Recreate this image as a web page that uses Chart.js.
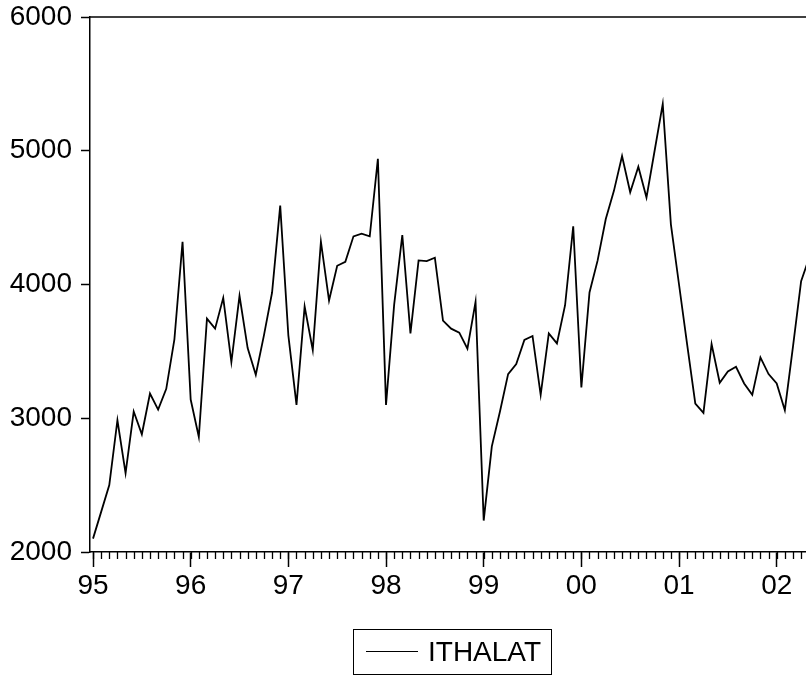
<!DOCTYPE html>
<html>
<head>
<meta charset="utf-8">
<title>ITHALAT</title>
<script src="https://cdn.jsdelivr.net/npm/chart.js@4.4.1/dist/chart.umd.min.js"></script>
<style>
    html, body { margin: 0; padding: 0; background: #fff; }
    #wrap { position: relative; width: 806px; height: 678px; overflow: hidden; }
    #chart { display: block; }
    #legend {
        position: absolute; left: 353px; top: 629px;
        width: 199px; height: 46px; box-sizing: border-box;
        border: 1.5px solid #000;
        font-family: "Liberation Sans", Arial, sans-serif; font-size: 28px; color: #000;
    }
    #legend .swatch { position: absolute; left: 12px; top: 21px; width: 52px; height: 0; border-top: 1.5px solid #000; }
    #legend .label { position: absolute; left: 74px; top: 8px; line-height: 28px; white-space: nowrap; }
</style>
</head>
<body>
<div id="wrap">
    <canvas id="chart" width="806" height="678"></canvas>
    <div id="legend"><span class="swatch"></span><span class="label">ITHALAT</span></div>
</div>
<script>
// Monthly values, Jan 1995 .. May 2002
const ithalat95 = [2100, 2300, 2500, 2985, 2590, 3050, 2880, 3185, 3065, 3220, 3590, 4320];
const ithalat96 = [3140, 2860, 3745, 3670, 3900, 3420, 3915, 3525, 3325, 3620, 3940, 4590];
const ithalat97 = [3620, 3100, 3835, 3510, 4320, 3880, 4140, 4170, 4360, 4380, 4360, 4940];
const ithalat98 = [3100, 3850, 4370, 3635, 4180, 4175, 4200, 3730, 3670, 3640, 3520, 3870];
const ithalat99 = [2235, 2790, 3050, 3330, 3405, 3585, 3615, 3175, 3635, 3560, 3845, 4435];
const ithalat00 = [3230, 3940, 4180, 4490, 4700, 4960, 4690, 4880, 4650, 5000, 5350, 4450];
const ithalat01 = [4000, 3550, 3110, 3040, 3555, 3265, 3350, 3385, 3260, 3175, 3455, 3330];
const ithalat02 = [3260, 3060, 3535, 4025, 4200];

const yearLabels = ['95', '96', '97', '98', '99', '00', '01', '02'];
const yTicks = [2000, 3000, 4000, 5000, 6000];

const ithalat = [].concat(ithalat95, ithalat96, ithalat97, ithalat98,
                          ithalat99, ithalat00, ithalat01, ithalat02);

const FONT = { family: '"Liberation Sans", Arial, sans-serif', size: 28 };

// Small monthly ticks under the x axis
const minorTicks = {
    id: 'minorTicks',
    afterDraw(chart) {
        const ctx = chart.ctx;
        const xs = chart.scales.x;
        const y0 = chart.chartArea.bottom;
        ctx.save();
        ctx.strokeStyle = '#000';
        ctx.lineWidth = 1.3;
        ctx.beginPath();
        for (let i = 0; i <= ithalat.length; i++) {
            if (i > xs.max) break;
            const px = Math.round(xs.getPixelForValue(i)) + 0.5;
            ctx.moveTo(px, y0);
            ctx.lineTo(px, y0 + 7);
        }
        ctx.stroke();
        ctx.restore();
    }
};

// Top frame line
const frame = {
    id: 'frame',
    afterDraw(chart) {
        const a = chart.chartArea;
        const ctx = chart.ctx;
        ctx.save();
        ctx.strokeStyle = '#000';
        ctx.lineWidth = 1.5;
        ctx.beginPath();
        ctx.moveTo(a.left, a.top);
        ctx.lineTo(a.right, a.top);
        ctx.stroke();
        ctx.restore();
    }
};

function initChart() {
    const ctx = document.getElementById('chart');
    return new Chart(ctx, {
        type: 'line',
        data: {
            datasets: [{
                label: 'ITHALAT',
                data: ithalat.map((v, i) => ({ x: i, y: v })),
                borderColor: '#000',
                borderWidth: 1.8,
                pointRadius: 0,
                tension: 0,
                fill: false
            }]
        },
        options: {
            responsive: false,
            animation: false,
            devicePixelRatio: 1,
            layout: { padding: { top: 17, left: 0, right: 0, bottom: 0 } },
            plugins: {
                legend: { display: false },
                tooltip: { enabled: false }
            },
            scales: {
                x: {
                    type: 'linear',
                    min: -0.37,
                    max: 87.6,
                    afterBuildTicks: s => { s.ticks = yearLabels.map((_, i) => ({ value: i * 12 })); },
                    afterFit: s => { s.height = 126; s.paddingLeft = 0; s.paddingRight = 0; },
                    grid: { drawOnChartArea: false, tickLength: 15, tickWidth: 1.5, tickColor: '#000' },
                    border: { color: '#000', width: 1.5 },
                    ticks: {
                        color: '#000', font: FONT, padding: 2,
                        maxRotation: 0, autoSkip: false,
                        callback: v => yearLabels[Math.round(v / 12)]
                    }
                },
                y: {
                    min: 2000,
                    max: 6000,
                    afterBuildTicks: s => { s.ticks = yTicks.map(v => ({ value: v })); },
                    afterFit: s => { s.width = 90; s.paddingTop = 0; s.paddingBottom = 0; },
                    grid: { drawOnChartArea: false, tickLength: 9, tickWidth: 1.5, tickColor: '#000' },
                    border: { color: '#000', width: 1.5 },
                    ticks: { color: '#000', font: FONT, padding: 9, callback: v => String(v) }
                }
            }
        },
        plugins: [minorTicks, frame]
    });
}

initChart();
</script>
</body>
</html>
